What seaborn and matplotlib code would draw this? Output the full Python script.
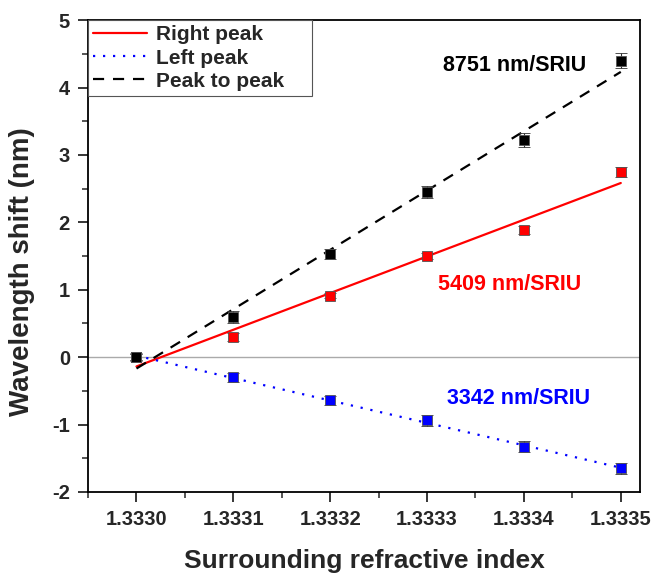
import numpy as np
import pandas as pd
import matplotlib
matplotlib.use('Agg')
import matplotlib.pyplot as plt
import seaborn as sns
from matplotlib.lines import Line2D
from matplotlib.ticker import MultipleLocator

# Data
ri = [1.3330, 1.3331, 1.3332, 1.3333, 1.3334, 1.3335]
right_peak = [0.0, 0.30, 0.91, 1.50, 1.88, 2.745]
left_peak = [0.0, -0.30, -0.64, -0.94, -1.33, -1.65]
peak_to_peak = [0.0, 0.59, 1.53, 2.45, 3.22, 4.40]
right_err = [0.05, 0.06, 0.04, 0.04, 0.06, 0.07]
left_err = [0.05, 0.07, 0.07, 0.08, 0.08, 0.08]
p2p_err = [0.06, 0.09, 0.08, 0.09, 0.10, 0.11]

df = pd.DataFrame({'ri': ri, 'right': right_peak, 'left': left_peak, 'p2p': peak_to_peak})

sns.set_style('ticks')
plt.rcParams['font.family'] = ['Liberation Sans', 'DejaVu Sans']
plt.rcParams['font.weight'] = 'bold'
plt.rcParams['axes.unicode_minus'] = False

fig = plt.figure(figsize=(6.62, 5.76), dpi=100)
ax = fig.add_axes([0.133, 0.146, 0.834, 0.819])

ax.axhline(0, color='#aaaaaa', lw=1, zorder=0)

series = [
    ('right', right_err, 'red', '-', 'Right peak'),
    ('left', left_err, 'blue', (0, (1, 3.5)), 'Left peak'),
    ('p2p', p2p_err, 'black', (0, (5, 4)), 'Peak to peak'),
]
handles = []
for col, err, color, ls, label in series:
    sns.regplot(data=df, x='ri', y=col, ax=ax, scatter=False, ci=None, truncate=True,
                line_kws={'color': color, 'ls': ls, 'lw': 1.6})
    ax.errorbar(df['ri'], df[col], yerr=err, fmt='s', ms=7, color=color,
                mec='#555555', mew=0.6, ecolor='#333333', elinewidth=0.8,
                capsize=4, capthick=0.8, zorder=4)
    handles.append(Line2D([], [], color=color, ls=ls, lw=1.6, label=label))

ax.text(1.33339, 4.33, '8751 nm/SRIU', color='black', fontsize=15.5, fontweight='bold',
        ha='center', va='center')
ax.text(1.333385, 1.08, '5409 nm/SRIU', color='red', fontsize=15.5, fontweight='bold',
        ha='center', va='center')
ax.text(1.333394, -0.61, '3342 nm/SRIU', color='blue', fontsize=15.5, fontweight='bold',
        ha='center', va='center')

ax.set_xlim(1.33295, 1.33352)
ax.set_ylim(-2, 5)
ax.xaxis.set_minor_locator(MultipleLocator(0.00005))
ax.yaxis.set_major_locator(MultipleLocator(1))
ax.yaxis.set_minor_locator(MultipleLocator(0.5))
ax.set_xticks(ri)
ax.set_xticklabels([f'{v:.4f}' for v in ri])
ax.tick_params(which='major', direction='out', length=7, width=1.3, labelsize=14.5, pad=6)
ax.tick_params(which='minor', direction='out', length=4, width=1.1)
for lab in ax.get_xticklabels() + ax.get_yticklabels():
    lab.set_fontweight('bold')
for s in ax.spines.values():
    s.set_linewidth(1.3)
    s.set_color('black')

ax.set_xlabel('Surrounding refractive index', fontsize=19, fontweight='bold')
ax.set_ylabel('Wavelength shift (nm)', fontsize=20, fontweight='bold')
ax.xaxis.set_label_coords(0.5, -0.121)
ax.yaxis.set_label_coords(-0.096, 0.466)

leg = ax.legend(handles=handles, loc='upper left', bbox_to_anchor=(0, 1, 0.406, 0),
                mode='expand', borderaxespad=0, fontsize=15,
                fancybox=False, framealpha=1, edgecolor='#555555', handlelength=2.6,
                handletextpad=0.4, labelspacing=0.2, borderpad=0.25)
leg.get_frame().set_linewidth(0.8)

fig.savefig('out.png', dpi=100)
